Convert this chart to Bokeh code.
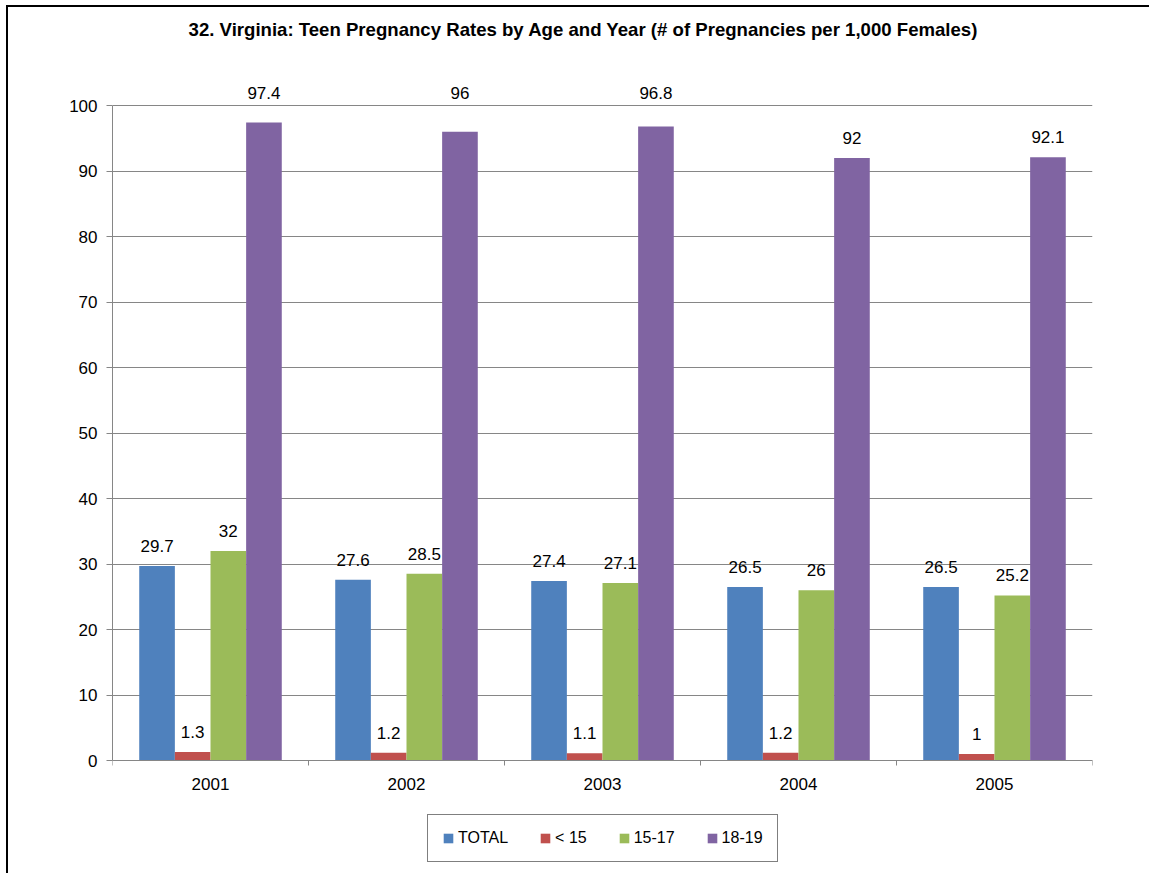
from bokeh.plotting import figure
from bokeh.models import (ColumnDataSource, Range1d, LinearAxis, Legend, LegendItem,
                          FixedTicker, LabelSet, Label)
from bokeh.core.properties import value
from bokeh.embed import file_html
from bokeh.resources import INLINE

# ---- data ----
years = ["2001", "2002", "2003", "2004", "2005"]
series_names = ["TOTAL", "< 15", "15-17", "18-19"]
total = [29.7, 27.6, 27.4, 26.5, 26.5]
under_15 = [1.3, 1.2, 1.1, 1.2, 1.0]
age_15_17 = [32.0, 28.5, 27.1, 26.0, 25.2]
age_18_19 = [97.4, 96.0, 96.8, 92.0, 92.1]
y_ticks = [0, 10, 20, 30, 40, 50, 60, 70, 80, 90, 100]
title_text = "32. Virginia: Teen Pregnancy Rates by Age and Year (# of Pregnancies per 1,000 Females)"

colors = ["#4F81BD", "#C0504D", "#9BBB59", "#8064A2"]
FONT = "Liberation Sans"
GRID = "#868686"

series_values = [total, under_15, age_15_17, age_18_19]
ncat = len(years)
centers = [i + 0.5 for i in range(ncat)]
y_max = y_ticks[-1]

# ---- layout (pixels) ----
W, H = 1143, 868
B_LEFT, B_RIGHT, B_TOP = 104, 59, 6
ZERO_PX = 753                      # canvas row of value 0
PLOT_PX = 655                      # pixels spanned by 0..100
px_per_unit = PLOT_PX / y_max
y_top = (ZERO_PX - B_TOP) / px_per_unit
y_bottom = -(H - ZERO_PX) / px_per_unit

p = figure(width=W, height=H,
           x_range=Range1d(0, ncat),
           y_range=Range1d(y_bottom, y_top),
           output_backend="svg", toolbar_location=None,
           x_axis_location=None, y_axis_location="left",
           min_border_left=B_LEFT, min_border_right=B_RIGHT,
           min_border_top=B_TOP, min_border_bottom=0)
p.outline_line_color = None
p.background_fill_color = "white"
p.border_fill_color = "white"
p.styles = {"border-left": "2px solid black", "border-top": "2px solid black",
            "margin-left": "6px", "margin-top": "5px"}

# y axis
ya = p.yaxis[0]
ya.ticker = FixedTicker(ticks=y_ticks)
ya.bounds = (0, y_max)
ya.axis_line_color = GRID
ya.major_tick_line_color = GRID
ya.major_tick_out = 6
ya.major_tick_in = 0
ya.minor_tick_line_color = None
ya.major_label_standoff = 9
ya.major_label_text_font = FONT
ya.major_label_text_font_size = "17px"
ya.major_label_text_color = "black"

p.ygrid.ticker = FixedTicker(ticks=y_ticks)
p.ygrid.grid_line_color = GRID
p.xgrid.grid_line_color = None

# x axis: separator ticks between categories, fixed at value 0
axb = LinearAxis(ticker=FixedTicker(ticks=list(range(ncat + 1))),
                 fixed_location=0,
                 axis_line_color=GRID, major_tick_line_color=GRID,
                 major_tick_out=5, major_tick_in=0,
                 minor_tick_line_color=None,
                 major_label_text_font_size="1px", major_label_text_alpha=0,
                 major_label_standoff=0)
p.add_layout(axb, "below")
# x axis: category labels at group centres
axa = LinearAxis(ticker=FixedTicker(ticks=centers),
                 fixed_location=0,
                 major_label_overrides={c: y for c, y in zip(centers, years)},
                 axis_line_color=None, major_tick_line_color=None,
                 minor_tick_line_color=None,
                 major_tick_out=0, major_tick_in=0,
                 major_label_standoff=17,
                 major_label_text_font=FONT,
                 major_label_text_font_size="17px",
                 major_label_text_color="black")
p.add_layout(axa, "below")

# bars
n = len(series_names)
bw = 1.0 / (n + 1.5)
lift = 20 / px_per_unit            # label centre 20 px above bar top
half_label = 9 / px_per_unit
label_cap = (ZERO_PX - 85) / px_per_unit   # labels that would cross the top line go above it
items = []
for i, (name, vals, col) in enumerate(zip(series_names, series_values, colors)):
    off = (i - (n - 1) / 2) * bw
    src = ColumnDataSource(dict(
        x=[c + off for c in centers], v=vals,
        ly=[label_cap if v + lift + half_label > y_max else v + lift for v in vals],
        txt=[f"{v:g}" for v in vals]))
    r = p.vbar(x="x", top="v", width=bw, bottom=0,
               source=src, fill_color=col, line_color=None)
    items.append(LegendItem(label=name, renderers=[r]))
    p.add_layout(LabelSet(x="x", y="ly", text="txt",
                          source=src, text_align="center", text_baseline="middle",
                          text_font=value(FONT), text_font_size="17px",
                          text_color="black"))

# title
p.add_layout(Label(x=2.403, y=(ZERO_PX - 22) / px_per_unit, text=title_text,
                   text_align="center", text_baseline="middle",
                   text_font=FONT, text_font_size="18.6px",
                   text_font_style="bold", text_color="black"))

# legend (inside the frame, below the axis)
lg = Legend(items=items, orientation="horizontal", location=(315, 13),
            label_text_font=FONT, label_text_font_size="16px",
            label_text_color="black", glyph_width=12, glyph_height=12,
            label_standoff=4, spacing=31, padding=14, margin=0,
            border_line_color="black", border_line_width=1,
            background_fill_color="white", background_fill_alpha=1)
p.add_layout(lg, "center")

open("out.html", "w").write(file_html(p, INLINE))
